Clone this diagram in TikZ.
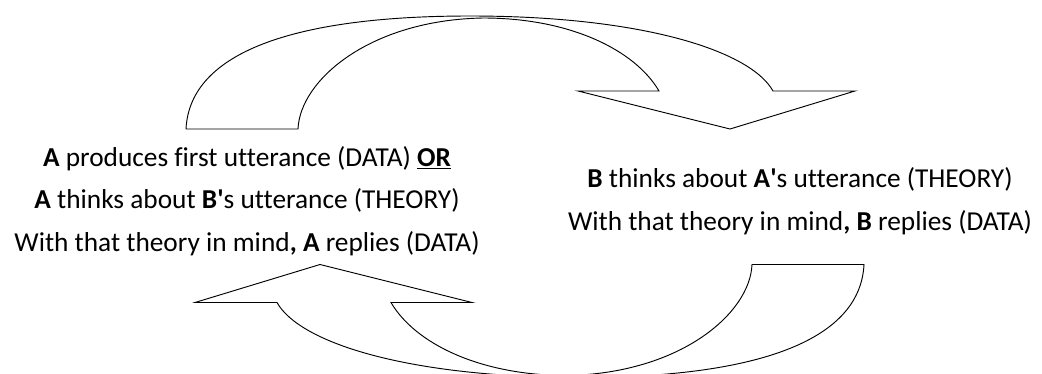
\documentclass[tikz,border=0pt]{standalone}
\usepackage{fontspec}
\setmainfont{Carlito}[Ligatures=NoCommon]

\begin{document}
\begin{tikzpicture}[
  x=0.75pt,
  y=-0.75pt,
  turn/.style={
    draw=black,
    fill=white,
    line width=0.7pt,
    line join=miter
  },
  speech/.style={
    align=center,
    inner sep=0pt,
    font=\fontsize{20.5}{31.9}\selectfont
  },
  turnarrow/.pic={
    \path[turn] (186,129) .. controls (190,50) and (300,16) .. (470,16)
      .. controls (640,16) and (750,50) .. (773,91)
      -- (855,91) -- (730,129) -- (578,91) -- (659,91)
      .. controls (635,50) and (570,18) .. (483,18)
      .. controls (370,20) and (300,80) .. (298,129) -- cycle;
  }
]
\useasboundingbox (0,0) rectangle (1042,374);

% A's turn on top, B's turn below (same arrow turned round)
\pic (turnA) at (0,0) {turnarrow};
\pic[rotate=180] (turnB) at (1050,393.5) {turnarrow};

\node[speech] (speakerA) at (247,201)
  {\textbf{A} produces first utterance (DATA) \textbf{\underline{OR}}\\
   \textbf{A} thinks about \textbf{B\textquotesingle}s utterance (THEORY)\\
   With that theory in mind\textbf{, A} replies (DATA)};
\node[speech] (speakerB) at (800,201)
  {\textbf{B} thinks about \textbf{A\textquotesingle}s utterance (THEORY)\\
   With that theory in mind\textbf{, B} replies (DATA)};
\end{tikzpicture}
\end{document}
